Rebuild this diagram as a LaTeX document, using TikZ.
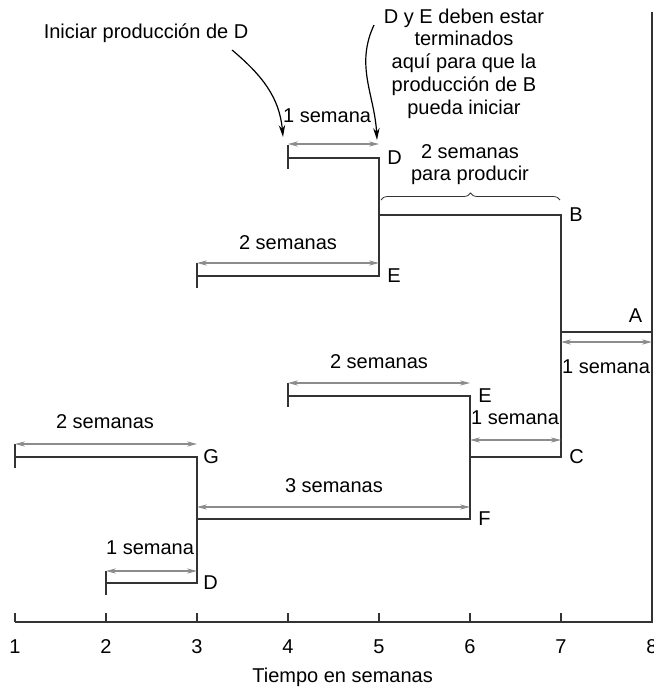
\documentclass[tikz,border=0pt]{standalone}
\usepackage{fontspec}
\setmainfont{Liberation Sans}
\usetikzlibrary{arrows.meta,decorations.pathreplacing}
\definecolor{barline}{HTML}{333333}
\definecolor{spangray}{HTML}{8C8C8C}

\begin{document}
\begin{tikzpicture}[
  x=45.5pt,y=-0.5pt,
  bar/.style={draw=barline,line width=.75pt},
  span/.style={{Stealth[length=5pt,width=2.6pt]}-{Stealth[length=5pt,width=2.6pt]},draw=spangray,line width=.6pt},
  tag/.style={font=\fontsize{10}{12}\selectfont,inner sep=1pt},
  part/.style={tag,anchor=west,xshift=3pt},
  note/.style={font=\fontsize{10}{11.4}\selectfont,align=center,inner sep=0pt},
  callout/.style={-{Stealth[length=6pt,width=3.2pt]},line width=.6pt}
]
\useasboundingbox (0.83516,0) rectangle (8.02198,687);
% bar ends (x in weeks, y in pixels)
\coordinate (d1a) at (4,158); \coordinate (d1b) at (5,158);
\coordinate (e1a) at (3,276); \coordinate (e1b) at (5,276);
\coordinate (ba) at (5,215);  \coordinate (bb) at (7,215);
\coordinate (aa) at (7,332);  \coordinate (ab) at (8,332);
\coordinate (e2a) at (4,396); \coordinate (e2b) at (6,396);
\coordinate (ca) at (6,457);  \coordinate (cb) at (7,457);
\coordinate (ga) at (1,457);  \coordinate (gb) at (3,457);
\coordinate (fa) at (3,519);  \coordinate (fb) at (6,519);
\coordinate (d2a) at (2,583); \coordinate (d2b) at (3,583);
\coordinate (top) at (8,12);  \coordinate (axL) at (1,622); \coordinate (axR) at (8,622);
% bars
\draw[bar] ([yshift=6.5pt]d1a) -- ([yshift=-5.5pt]d1a) (d1a) -- (d1b) -- (e1b) -- (e1a) ([yshift=6.5pt]e1a) -- ([yshift=-6pt]e1a);
\draw[bar] (ba) -- (bb) -- (cb) -- (ca);
\draw[bar] (aa) -- (ab);
\draw[bar] ([yshift=6.5pt]e2a) -- ([yshift=-5.5pt]e2a) (e2a) -- (e2b) -- (fb) -- (fa);
\draw[bar] ([yshift=6.5pt]ga) -- ([yshift=-5.5pt]ga) (ga) -- (gb) -- (d2b) -- (d2a) ([yshift=6pt]d2a) -- ([yshift=-6pt]d2a);
\draw[bar] (top) -- (axR) -- (axL);
% spans
\draw[span] ([yshift=7pt]d1a) -- ([yshift=7pt]d1b);
\draw[span] ([yshift=6.5pt]e1a) -- ([yshift=6.5pt]e1b);
\draw[span] ([yshift=-5pt]aa) -- ([yshift=-5pt]ab);
\draw[span] ([yshift=6.5pt]e2a) -- ([yshift=6.5pt]e2b);
\draw[span] ([yshift=8.5pt]ca) -- ([yshift=8.5pt]cb);
\draw[span] ([yshift=6.5pt]ga) -- ([yshift=6.5pt]gb);
\draw[span] ([yshift=6pt]fa) -- ([yshift=6pt]fb);
\draw[span] ([yshift=6pt]d2a) -- ([yshift=6pt]d2b);
\node[tag] (wD1) at (4.43,116) {1 semana};
\node[tag] (wE1) at (4.0,243) {2 semanas};
\node[tag] (wA) at (7.495,367) {1 semana};
\node[tag] (wE2) at (5.0,362) {2 semanas};
\node[tag] (wC) at (6.495,418) {1 semana};
\node[tag] (wG) at (1.989,422) {2 semanas};
\node[tag] (wF) at (4.505,486) {3 semanas};
\node[tag] (wD2) at (2.484,548) {1 semana};
% part letters
\node[part] (pD1) at (d1b) {D};
\node[part] (pE1) at (e1b) {E};
\node[part] (pB) at (bb) {B};
\node[tag] (pA) at (7.82,316) {A};
\node[part] (pE2) at (e2b) {E};
\node[part] (pC) at (cb) {C};
\node[part,xshift=-1pt] (pG) at (gb) {G};
\node[part] (pF) at (fb) {F};
\node[part,xshift=-1pt] (pD2) at (d2b) {D};
% brace and notes
\coordinate (brL) at (5.022,200); \coordinate (brR) at (6.989,200);
\draw[barline,line width=.4pt,decorate,decoration={brace,amplitude=3.5pt}] (brL) -- (brR);
\node[note] (make) at (6.0,164.5) {2 semanas\\para producir};
\node[note] (start) at (2.44,33) {Iniciar producción de D};
\node[note] (ready) at (5.934,63.5) {D y E deben estar\\terminados\\aquí para que la\\producción de B\\pueda iniciar};
\coordinate (fromS) at (3.385,50); \coordinate (toS) at (3.945,137);
\coordinate (fromR) at (4.945,25); \coordinate (toR) at (4.978,140);
\draw[callout] (fromS) to[out=-40,in=95] (toS);
\draw[callout] (fromR) to[out=-115,in=93] (toR);
% time axis
\foreach \w in {1,...,8}{
  \draw[bar] (\w,613) -- (\w,622);
  \node[tag] (t\w) at (\w,647) {\w};
}
\node[tag] (axis) at (4.6,677) {Tiempo en semanas};
\end{tikzpicture}
\end{document}
